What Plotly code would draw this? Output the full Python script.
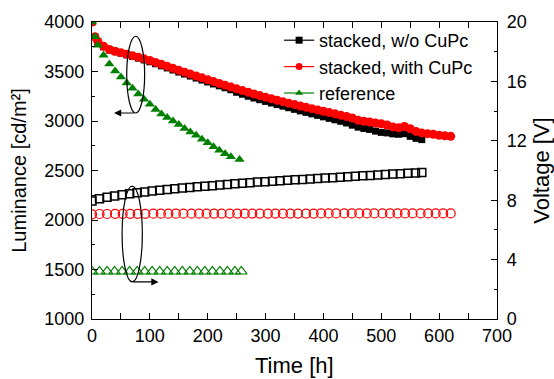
import plotly.graph_objects as go

# ---------------- data ----------------
# Luminance (filled markers, left axis)
t_blk = [0, 5, 10, 20, 30, 40, 50, 60, 70, 80, 90, 100, 110, 120, 130, 140, 150, 160, 170, 180,
         190, 200, 210, 220, 230, 240, 250, 260, 270, 280, 290, 300, 310, 320, 330, 340, 350,
         360, 370, 380, 390, 400, 410, 420, 430, 440, 450, 460, 470, 480, 490, 500, 510, 520,
         530, 540, 550, 560, 570]
L_blk = [4000, 3850, 3800, 3750, 3718, 3700, 3685, 3668, 3652, 3635, 3617, 3598, 3578, 3557,
         3536, 3515, 3494, 3474, 3454, 3434, 3414, 3394, 3374, 3355, 3336, 3316, 3290, 3270,
         3250, 3232, 3215, 3198, 3182, 3166, 3150, 3134, 3118, 3102, 3087, 3072, 3057, 3042,
         3027, 3012, 2997, 2980, 2958, 2938, 2925, 2915, 2898, 2885, 2880, 2870, 2866, 2872,
         2845, 2825, 2812]

t_red = [0, 5, 10, 20, 30, 40, 50, 60, 70, 80, 90, 100, 110, 120, 130, 140, 150, 160, 170, 180,
         190, 200, 210, 220, 230, 240, 250, 260, 270, 280, 290, 300, 310, 320, 330, 340, 350,
         360, 370, 380, 390, 400, 410, 420, 430, 440, 450, 460, 470, 480, 490, 500, 510, 520,
         530, 540, 550, 560, 570, 580, 590, 600, 610, 620]
L_red = [4000, 3850, 3805, 3755, 3722, 3705, 3690, 3675, 3660, 3645, 3628, 3612, 3592, 3572,
         3552, 3532, 3512, 3493, 3474, 3455, 3436, 3417, 3398, 3380, 3362, 3343, 3325, 3307,
         3290, 3273, 3257, 3241, 3225, 3210, 3195, 3180, 3166, 3152, 3138, 3125, 3112, 3098,
         3085, 3072, 3058, 3045, 3030, 3008, 2998, 2990, 2980, 2972, 2960, 2940, 2932, 2945,
         2922, 2895, 2880, 2872, 2865, 2856, 2850, 2845]

t_ref = [0, 5, 10, 20, 30, 40, 50, 60, 70, 80, 90, 100, 110, 120, 130, 140, 150, 160, 170, 180,
         190, 200, 210, 220, 230, 240, 255]
L_ref = [4000, 3850, 3765, 3665, 3575, 3505, 3445, 3385, 3330, 3272, 3220, 3170, 3115, 3070,
         3035, 3000, 2965, 2925, 2890, 2855, 2815, 2780, 2740, 2705, 2670, 2640, 2612]

# Voltage (open markers, right axis)
tv_blk = [0, 13, 26, 39, 52, 65, 78, 91, 104, 117, 130, 143, 156, 169, 182, 195, 208, 221, 234,
          247, 260, 273, 286, 299, 312, 325, 338, 351, 364, 377, 390, 403, 416, 429, 442, 455,
          468, 481, 494, 507, 520, 533, 546, 559, 570]
V_blk = [7.95, 8.10, 8.20, 8.28, 8.37, 8.43, 8.50, 8.56, 8.62, 8.67, 8.72, 8.77, 8.82, 8.86,
         8.90, 8.94, 8.98, 9.02, 9.06, 9.10, 9.14, 9.18, 9.22, 9.25, 9.28, 9.31, 9.34, 9.37,
         9.40, 9.43, 9.46, 9.49, 9.52, 9.55, 9.58, 9.61, 9.64, 9.67, 9.70, 9.73, 9.76, 9.78,
         9.81, 9.84, 9.87]

tv_red = [0, 13, 26, 40, 53, 66, 79, 92, 106, 119, 132, 145, 158, 172, 185, 198, 211, 224, 238,
          251, 264, 277, 290, 304, 317, 330, 343, 356, 370, 383, 396, 409, 422, 436, 449, 462,
          475, 488, 502, 515, 528, 541, 554, 568, 581, 594, 607, 620]
V_red = [7.05, 7.07, 7.07, 7.08, 7.08, 7.08, 7.08, 7.08, 7.09, 7.09, 7.09, 7.09, 7.09, 7.09,
         7.09, 7.09, 7.10, 7.10, 7.10, 7.10, 7.10, 7.10, 7.10, 7.10, 7.10, 7.10, 7.10, 7.10,
         7.10, 7.10, 7.11, 7.11, 7.11, 7.11, 7.11, 7.11, 7.11, 7.11, 7.11, 7.11, 7.11, 7.11,
         7.11, 7.11, 7.11, 7.11, 7.11, 7.11]

tv_ref = [0, 13, 26, 39, 52, 65, 78, 91, 104, 117, 130, 143, 156, 169, 182, 195, 208, 221, 234,
          247, 258]
V_ref = [3.20, 3.20, 3.20, 3.20, 3.20, 3.20, 3.20, 3.20, 3.20, 3.20, 3.20, 3.20, 3.20, 3.20,
         3.20, 3.20, 3.20, 3.20, 3.20, 3.20, 3.20]

names = ["stacked, w/o CuPc", "stacked, with CuPc", "reference"]
colors = ["#000000", "#ff0000", "#008000"]

FONT = "Liberation Sans, Arial, sans-serif"

fig = go.Figure()

# filled luminance series
fig.add_trace(go.Scatter(x=t_blk, y=L_blk, mode="markers", showlegend=False,
                         marker=dict(symbol="square", size=7, color=colors[0])))
fig.add_trace(go.Scatter(x=t_red, y=L_red, mode="markers", showlegend=False,
                         marker=dict(symbol="circle", size=9, color=colors[1])))
fig.add_trace(go.Scatter(x=t_ref, y=L_ref, mode="markers", showlegend=False,
                         marker=dict(symbol="triangle-up", size=9, color=colors[2])))

# open voltage series
fig.add_trace(go.Scatter(x=tv_blk, y=V_blk, yaxis="y2", mode="markers", showlegend=False,
                         marker=dict(symbol="square-open", size=8, color=colors[0],
                                     line=dict(width=1.5))))
fig.add_trace(go.Scatter(x=tv_red, y=V_red, yaxis="y2", mode="markers", showlegend=False,
                         marker=dict(symbol="circle-open", size=9, color=colors[1],
                                     line=dict(width=1.2))))
fig.add_trace(go.Scatter(x=tv_ref, y=V_ref, yaxis="y2", mode="markers", showlegend=False,
                         marker=dict(symbol="triangle-up-open", size=10, color=colors[2],
                                     line=dict(width=1.2))))

# legend entries
for nm, col, sym in zip(names, colors, ["square", "circle", "triangle-up"]):
    fig.add_trace(go.Scatter(x=[None], y=[None], mode="lines+markers", name=nm,
                             line=dict(color=col, width=1.2),
                             marker=dict(symbol=sym, size=7, color=col)))

# ellipses and arrows
fig.add_shape(type="circle", xref="x", yref="y", x0=60, x1=91, y0=3081, y1=3856,
              line=dict(color="black", width=1.2))
fig.add_shape(type="circle", xref="x", yref="y", x0=52, x1=87, y0=1374, y1=2343,
              line=dict(color="black", width=1.2))
fig.add_annotation(x=38, y=3081, ax=75, ay=3081, xref="x", yref="y", axref="x", ayref="y",
                   text="", showarrow=True, arrowhead=2, arrowsize=1.2, arrowwidth=1.2,
                   arrowcolor="black")
fig.add_annotation(x=115, y=1374, ax=69, ay=1374, xref="x", yref="y", axref="x", ayref="y",
                   text="", showarrow=True, arrowhead=2, arrowsize=1.2, arrowwidth=1.2,
                   arrowcolor="black")

# x-axis title placed as an annotation for precise vertical position
fig.add_annotation(text="Time [h]", xref="paper", yref="paper", x=0.5, y=-0.158,
                   xanchor="center", yanchor="middle", showarrow=False,
                   font=dict(size=22, family=FONT, color="black"))

axis_common = dict(showline=True, linecolor="black", linewidth=1.3, ticks="inside",
                   ticklen=6, tickwidth=1.2, tickcolor="black", showgrid=False,
                   zeroline=False, tickfont=dict(size=18, color="black", family=FONT))

fig.update_layout(
    width=554, height=379,
    margin=dict(l=92, r=57, t=22, b=60, autoexpand=False),
    paper_bgcolor="white", plot_bgcolor="white",
    font=dict(family=FONT, color="black"),
    xaxis=dict(range=[0, 700], dtick=100, mirror="allticks",
               minor=dict(dtick=50, ticks="inside", ticklen=3, tickcolor="black"),
               **axis_common),
    yaxis=dict(range=[1000, 4000], dtick=500, ticklabelstandoff=3,
               minor=dict(dtick=250, ticks="inside", ticklen=3, tickcolor="black"),
               title=dict(text="Luminance [cd/m²]", font=dict(size=20), standoff=12),
               **axis_common),
    yaxis2=dict(range=[0, 20], dtick=4, overlaying="y", side="right", ticklabelstandoff=5,
                minor=dict(dtick=2, ticks="inside", ticklen=3, tickcolor="black"),
                title=dict(text="Voltage [V]", font=dict(size=22), standoff=9),
                **axis_common),
    legend=dict(x=0.462, y=1.0, xanchor="left", yanchor="top",
                font=dict(size=18, family=FONT), bgcolor="rgba(0,0,0,0)",
                tracegroupgap=0, itemwidth=30),
)

fig.write_html("out.html")
